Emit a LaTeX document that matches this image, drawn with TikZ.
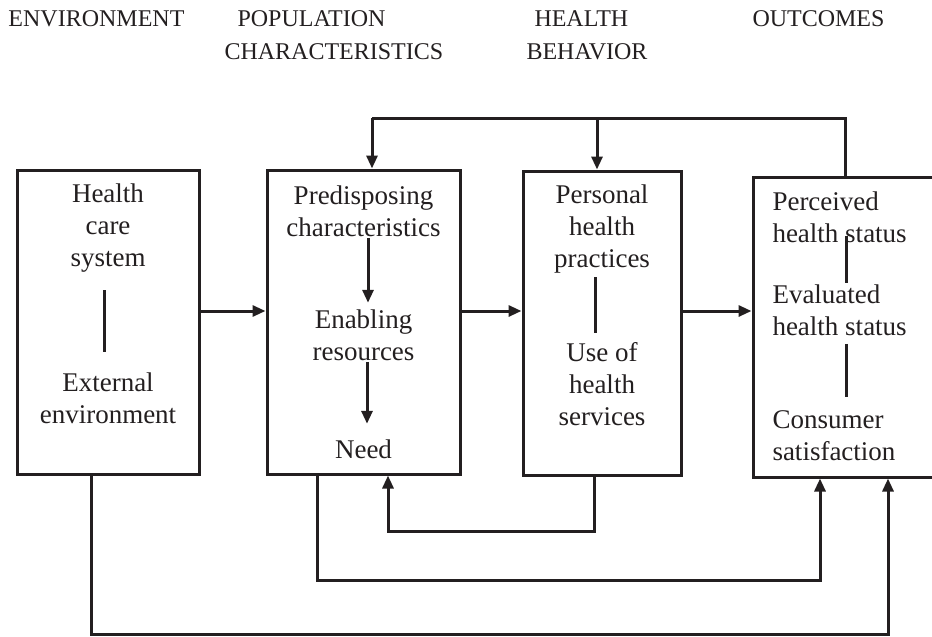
\documentclass[tikz,border=0pt]{standalone}
\usepackage{fontspec}
\setmainfont{Liberation Serif}
\usetikzlibrary{arrows.meta}
\definecolor{ink}{HTML}{231F20}

\begin{document}
\begin{tikzpicture}[x=1pt, y=-1pt, color=ink, line width=3pt,
    arr/.style={-{Triangle[length=13pt,width=11pt]}},
    stage/.style={draw, inner sep=0pt, line width=3pt},
    heading/.style={anchor=base west, inner sep=0pt, font=\fontsize{24}{28}\selectfont},
    item/.style={anchor=base, align=center, inner sep=0pt, font=\fontsize{27}{32}\selectfont},
    itemleft/.style={anchor=base west, align=left, inner sep=0pt, font=\fontsize{27}{32}\selectfont}]
        \clip (0,0) rectangle (932,637);

        % Column headings
        \node[heading] (hEnv) at (7,26) {ENVIRONMENT};
        \node[heading] (hPopA) at (236,26) {POPULATION};
        \node[heading] (hPopB) at (223,59) {CHARACTERISTICS};
        \node[heading] (hBehA) at (533,26) {HEALTH};
        \node[heading] (hBehB) at (525,59) {BEHAVIOR};
        \node[heading] (hOut) at (751,26) {OUTCOMES};

        % Four stage boxes
        \node[stage, minimum width=182pt, minimum height=304pt] (env) at (108,322) {};
        \node[stage, minimum width=193pt, minimum height=304pt] (pop) at (363.5,322) {};
        \node[stage, minimum width=158pt, minimum height=304pt] (beh) at (602,323) {};
        \node[stage, minimum width=200pt, minimum height=300pt] (out) at (853,327) {};

        % Box contents (placed at the baseline of the last line)
        \node[item] (hcs) at (108,266) {Health\\care\\system};
        \node[item] (ext) at (108,423) {External\\environment};
        \node[item] (pred) at (363.5,236) {Predisposing\\characteristics};
        \node[item] (enab) at (363.5,360) {Enabling\\resources};
        \node[item] (need) at (363.5,458) {Need};
        \node[item] (php) at (602,267) {Personal\\health\\practices};
        \node[item] (use) at (602,425) {Use of\\health\\services};
        \node[itemleft] (perc) at (771,242) {Perceived\\health status};
        \node[itemleft] (eval) at (771,335) {Evaluated\\health status};
        \node[itemleft] (cons) at (771,460) {Consumer\\satisfaction};

        % Links inside the boxes
        \draw[shorten <=17pt, shorten >=19pt] (hcs.south -| 104,0) -- (ext.north -| 104,0);
        \draw[arr, shorten >=5pt] (pred.south -| 368,0) -- (enab.north -| 368,0);
        \draw[arr, shorten >=14pt] (enab.south -| 367,0) -- (need.north -| 367,0);
        \draw[shorten <=3pt, shorten >=7pt] (php.south -| 595,0) -- (use.north -| 595,0);
        \draw[shorten <=-8pt] (perc.south -| 846,0) -- (eval.north -| 846,0);
        \draw[shorten <=7pt, shorten >=12pt] (eval.south -| 846,0) -- (cons.north -| 846,0);

        % Forward arrows between stages
        \coordinate (midrow) at (0,311);
        \draw[arr] (env.east |- midrow) -- (pop.west |- midrow);
        \draw[arr] (pop.east |- midrow) -- (beh.west |- midrow);
        \draw[arr] (beh.east |- midrow) -- (out.west |- midrow);

        % Feedback from outcomes (top)
        \coordinate (topL) at (372,118);
        \coordinate (topM) at (597,118);
        \coordinate (topR) at (845,118);
        \draw (out.north -| topR) -- (topR) -- (topL);
        \draw[arr] (topL) -- (pop.north -| topL);
        \draw[arr] (topM) -- (beh.north -| topM);

        % Loops underneath
        \coordinate (loopA1) at (594,531);
        \coordinate (loopA2) at (388,531);
        \draw[arr] (beh.south -| loopA1) -- (loopA1) -- (loopA2) -- (pop.south -| loopA2);
        \coordinate (loopB1) at (317,580);
        \coordinate (loopB2) at (820,580);
        \draw[arr] (pop.south -| loopB1) -- (loopB1) -- (loopB2) -- (out.south -| loopB2);
        \coordinate (loopC1) at (91,634);
        \coordinate (loopC2) at (888,634);
        \draw[arr] (env.south -| loopC1) -- (loopC1) -- (loopC2) -- (out.south -| loopC2);
\end{tikzpicture}
\end{document}
